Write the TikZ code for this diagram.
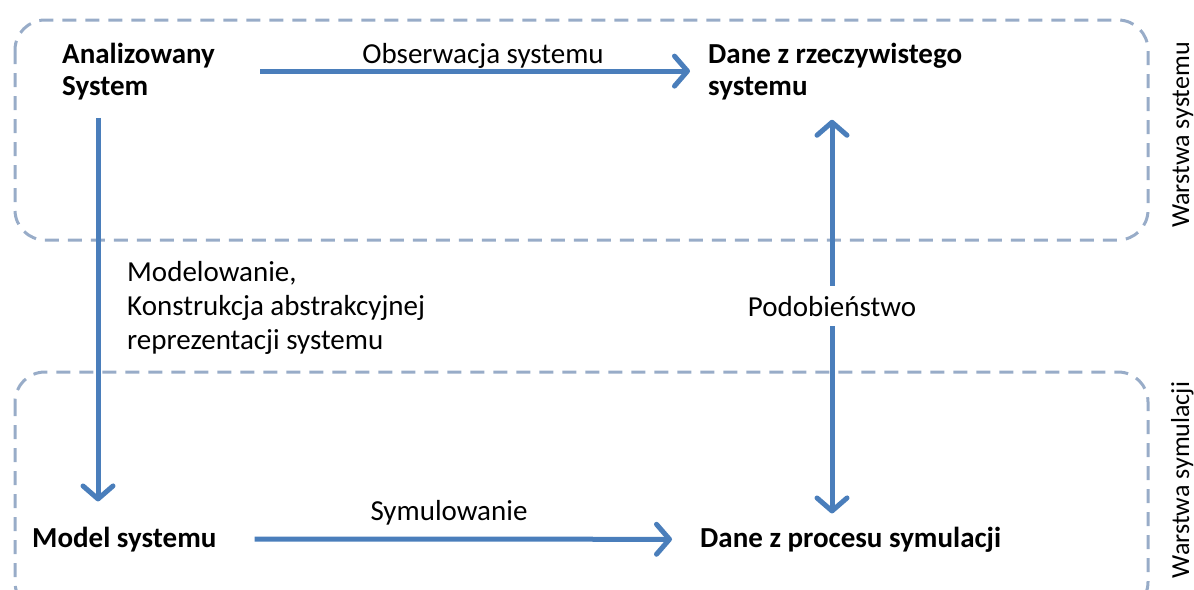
\documentclass[tikz,border=0pt]{standalone}
\usepackage{fontspec}
\setmainfont{Carlito}
\usetikzlibrary{arrows.meta}
\definecolor{arrblue}{RGB}{74,126,187}
\definecolor{dashc}{RGB}{152,172,200}
\begin{document}
\begin{tikzpicture}[x=1pt,y=-1pt,
  lbl/.style={inner sep=0pt, font=\fontsize{29}{34}\selectfont, align=left},
  sidelbl/.style={inner sep=0pt, font=\fontsize{26}{32}\selectfont, rotate=90, anchor=base},
  boldlbl/.style={inner sep=0pt, font=\fontsize{29}{32}\selectfont\bfseries, align=left},
  arr/.style={arrblue, line width=5pt, -{Straight Barb[length=13pt,width=30pt,round]}},
  layer/.style={dashc, line width=3pt, dash pattern=on 14pt off 9pt, rounded corners=30pt}]
\useasboundingbox (0,0) rectangle (1194,589);
\draw[layer] (15,20) rectangle (1148,240);
\draw[layer] (15,372) rectangle (1148,612);

\node[boldlbl, anchor=base west] (anal) at (62,95) {Analizowany\\System};
\node[boldlbl, anchor=base west] (dane1) at (708,95) {Dane z rzeczywistego\\systemu};
\node[boldlbl, anchor=base west] (model) at (32,547) {Model systemu};
\node[boldlbl, anchor=base west] (dane2) at (700,547) {Dane z procesu symulacji};

\node[lbl, anchor=base] (obs) at (483,63) {Obserwacja systemu};
\node[lbl, anchor=base] (sym) at (449,520) {Symulowanie};
\node[lbl, anchor=base west] (mod) at (127,349) {Modelowanie,\\Konstrukcja abstrakcyjnej\\reprezentacji systemu};
\node[lbl, anchor=base] (pod) at (832,316) {Podobieństwo};

\node[sidelbl] (ws1) at (1189,135) {Warstwa systemu};
\node[sidelbl] (ws2) at (1189,480) {Warstwa symulacji};

\draw[arr] ([xshift=45]anal.east) -- ([xshift=-18]dane1.west);
\draw[arr] ([shift={(36,18)}]anal.south west) -- ([shift={(66,-25)}]model.north west);
\draw[arr] ([xshift=38]model.east) -- ([xshift=-28]dane2.west);
\draw[arr, shorten <=10pt, shorten >=20pt] (pod.north) -- (pod.north |- dane1.south);
\draw[arr, shorten <=10pt, shorten >=13pt] (pod.south) -- (pod.south |- dane2.north);
\end{tikzpicture}
\end{document}
